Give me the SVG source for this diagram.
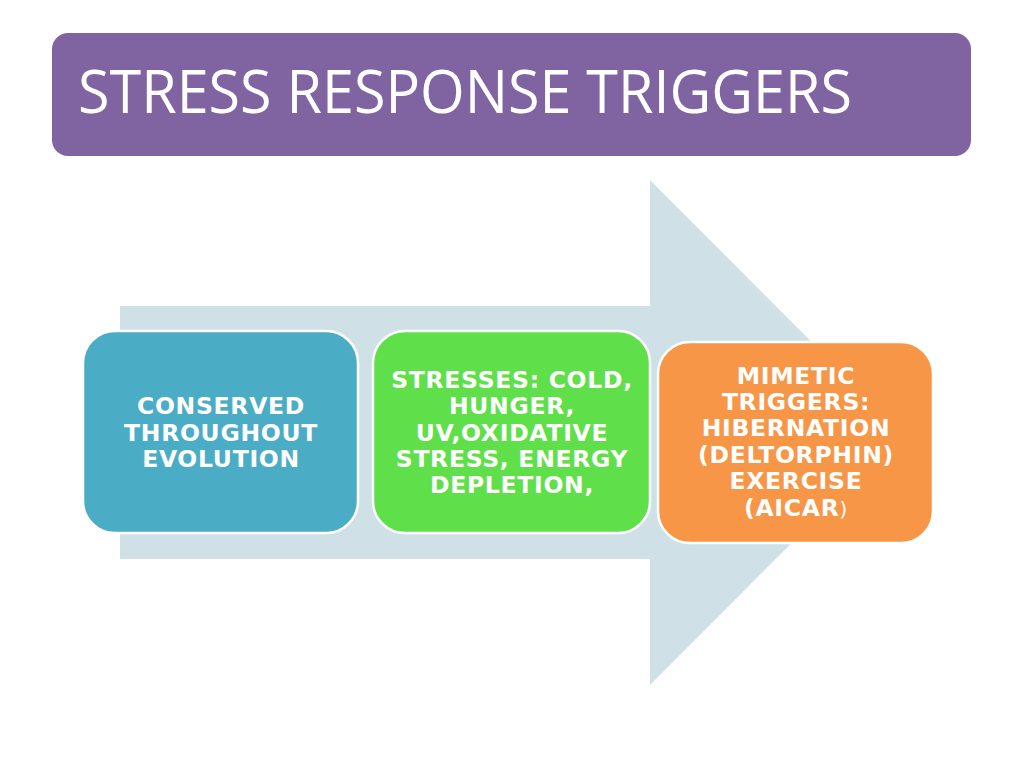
<svg xmlns="http://www.w3.org/2000/svg" width="1024" height="768" viewBox="0 0 1024 768">
<style>
.lbl{font-family:"DejaVu Sans","Verdana",sans-serif;font-weight:bold;font-size:23.5px;letter-spacing:0.7px;fill:#ffffff;text-anchor:middle}
.box{stroke:#ffffff;stroke-width:2.5}
</style>
<rect width="1024" height="768" fill="#ffffff"/>
<g id="title">
<rect x="52" y="33" width="919" height="123" rx="16" fill="#8064A2"/>
<text x="78" y="113" font-family="Open Sans, Liberation Sans, sans-serif" font-size="60" fill="#ffffff" textLength="774" lengthAdjust="spacingAndGlyphs">STRESS RESPONSE TRIGGERS</text>
</g>
<g id="connectors">
<path d="M120,306 H650 V180 L902,432.5 L650,685 V559 H120 Z" fill="#CFE1E7"/>
</g>
<g id="node1">
<rect class="box" x="83" y="331" width="275" height="202" rx="32" fill="#4BACC6"/>
<text class="lbl"><tspan x="221" y="414">CONSERVED</tspan><tspan x="221" y="441">THROUGHOUT</tspan><tspan x="221" y="467">EVOLUTION</tspan></text>
</g>
<g id="node2">
<rect class="box" x="373" y="331" width="277" height="202" rx="32" fill="#5FE04A"/>
<text class="lbl"><tspan x="512" y="388">STRESSES: COLD,</tspan><tspan x="512" y="414">HUNGER,</tspan><tspan x="512" y="441">UV,OXIDATIVE</tspan><tspan x="512" y="467">STRESS, ENERGY</tspan><tspan x="512" y="493">DEPLETION,</tspan></text>
</g>
<g id="node3">
<rect class="box" x="658" y="342" width="275" height="201" rx="32" fill="#F79646"/>
<text class="lbl"><tspan x="796" y="384">MIMETIC</tspan><tspan x="796" y="410">TRIGGERS:</tspan><tspan x="796" y="436">HIBERNATION</tspan><tspan x="796" y="463">(DELTORPHIN)</tspan><tspan x="796" y="489">EXERCISE</tspan><tspan x="796" y="516">(AICAR<tspan font-weight="normal" font-size="20">)</tspan></tspan></text>
</g>
</svg>
